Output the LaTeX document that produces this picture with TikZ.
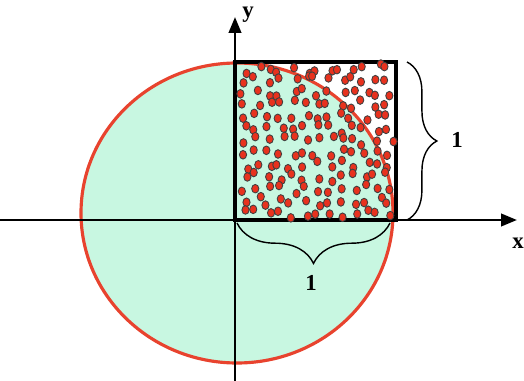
\documentclass[tikz,border=0pt]{standalone}
\usepackage{fontspec}
\setmainfont{Liberation Serif}
\usetikzlibrary{arrows.meta,decorations.pathreplacing}
\definecolor{mint}{HTML}{C8F7E1}
\definecolor{circred}{HTML}{E8432E}
\definecolor{dotred}{HTML}{E8321E}
\begin{document}
\begin{tikzpicture}[x=0.02cm, y=-0.02cm, font=\fontsize{13}{15}\selectfont\bfseries,
    sample/.style={fill=dotred, draw=black!75, line width=0.5pt},
    curly/.style={decorate, decoration={brace, amplitude=#1}, line width=0.8pt},
    axisarrow/.style={line width=1.5pt, -{Triangle[length=9pt,width=7pt]}}]
    \useasboundingbox (0,0) rectangle (524,381);
    \coordinate (O) at (235,220);
    % disc and quarter square
    \fill[mint] (237,213) ellipse [x radius=156, y radius=150];
    \draw[circred, line width=1.8pt] (237,213) ellipse [x radius=156, y radius=150];
    \draw[line width=0.6pt] (0,220) -- (O);
    \draw[line width=0.6pt] (235,381) -- (O);
    \draw[axisarrow] (O) -- (517,220) coordinate (xend);
    \draw[axisarrow] (O) -- (235,17) coordinate (yend);
    \node (ylabel) at (248,15) {y};
    \node (xlabel) at (518,243) {x};
    \draw[line width=2.2pt] (O) rectangle (396,62) coordinate (corner);
    % random samples on a jittered grid
    \pgfmathsetseed{11}
    \foreach \i in {0,...,12} {
        \foreach \j in {0,...,12} {
            \pgfmathsetmacro\px{245+12*\i+10*(rnd-0.5)}
            \pgfmathsetmacro\py{69+12*\j+10*(rnd-0.5)}
            \draw[sample] (\px,\py) ellipse [x radius=3.6, y radius=4.3];
        }
    }
    % braces
    \draw[curly=17pt] (407,62) -- (407,220);
    \node (oneright) at (457,140) {1};
    \draw[curly=23pt] (390,223) -- (237,223);
    \node (onebottom) at (311,283) {1};
\end{tikzpicture}
\end{document}
